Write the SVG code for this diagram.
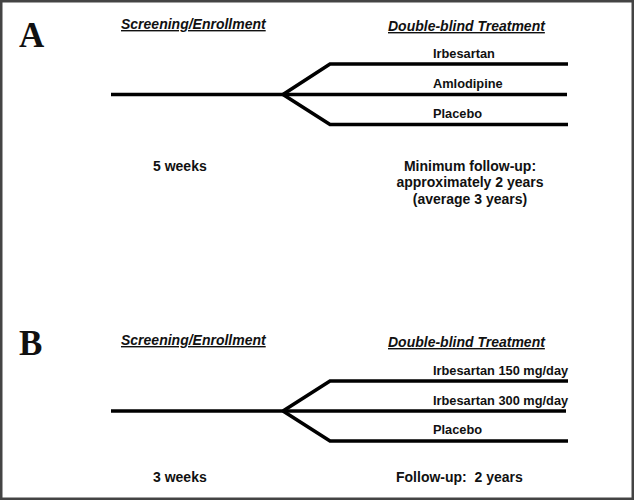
<svg xmlns="http://www.w3.org/2000/svg" width="634" height="500" viewBox="0 0 634 500">
  <style>
    .frame { fill: #ffffff; stroke: #444444; stroke-width: 2.5; }
    .panel { font-family: "Liberation Serif", "Times New Roman", serif; font-weight: bold; font-size: 35px; fill: #111111; }
    .head { font-family: "Liberation Sans", Arial, sans-serif; font-weight: bold; font-style: italic; font-size: 14px; fill: #111111; text-decoration: underline; }
    .lbl { font-family: "Liberation Sans", Arial, sans-serif; font-weight: bold; font-size: 12.8px; fill: #111111; }
    .txt { font-family: "Liberation Sans", Arial, sans-serif; font-weight: bold; font-size: 14px; fill: #111111; white-space: pre; }
    .arm { fill: none; stroke: #000000; stroke-width: 3.6; stroke-linejoin: miter; stroke-linecap: butt; }
  </style>
  <rect class="frame" x="1.25" y="1.25" width="631.5" height="497.5"/>

  <g id="panelA">
    <text class="panel" x="19" y="47">A</text>
    <g id="A-screening">
      <text class="head" x="121" y="29">Screening/Enrollment</text>
      <text class="txt" x="153" y="171">5 weeks</text>
    </g>
    <g id="A-treatment">
      <text class="head" x="388" y="31">Double-blind Treatment</text>
      <text class="txt" x="470" y="171" text-anchor="middle">Minimum follow-up:</text>
      <text class="txt" x="470" y="187" text-anchor="middle">approximately 2 years</text>
      <text class="txt" x="470" y="204" text-anchor="middle">(average 3 years)</text>
    </g>
    <g id="A-irbesartan"><text class="lbl" x="433" y="58">Irbesartan</text></g>
    <g id="A-amlodipine"><text class="lbl" x="433" y="88">Amlodipine</text></g>
    <g id="A-placebo"><text class="lbl" x="433" y="118">Placebo</text></g>
    <g id="A-connectors">
      <path class="arm" d="M111 94.5 H567"/>
      <path class="arm" d="M283 94.5 L330 64 H568"/>
      <path class="arm" d="M283 94.5 L330 124.5 H568"/>
    </g>
  </g>

  <g id="panelB">
    <text class="panel" x="19" y="355">B</text>
    <g id="B-screening">
      <text class="head" x="121" y="345">Screening/Enrollment</text>
      <text class="txt" x="153" y="482">3 weeks</text>
    </g>
    <g id="B-treatment">
      <text class="head" x="388" y="347">Double-blind Treatment</text>
      <text class="txt" x="396" y="482">Follow-up:  2 years</text>
    </g>
    <g id="B-irb150"><text class="lbl" x="433" y="375">Irbesartan 150 mg/day</text></g>
    <g id="B-irb300"><text class="lbl" x="433" y="405">Irbesartan 300 mg/day</text></g>
    <g id="B-placebo"><text class="lbl" x="433" y="434">Placebo</text></g>
    <g id="B-connectors">
      <path class="arm" d="M111 411 H566"/>
      <path class="arm" d="M283 411 L330 381 H568"/>
      <path class="arm" d="M283 411 L330 441 H568"/>
    </g>
  </g>
</svg>
